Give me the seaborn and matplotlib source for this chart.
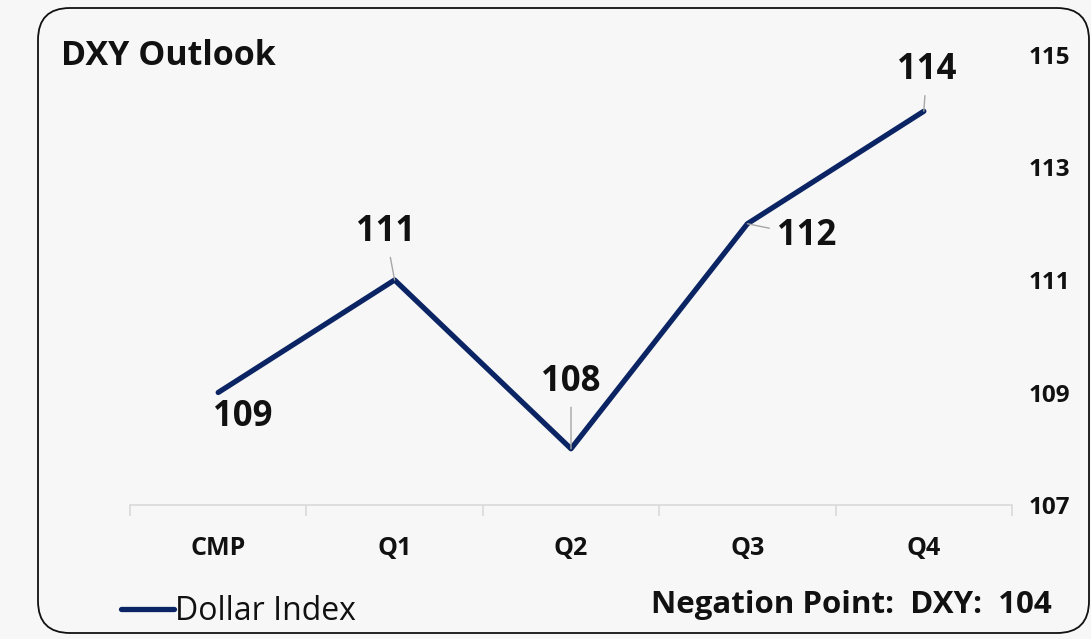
import matplotlib
matplotlib.use("Agg")
import matplotlib.pyplot as plt
import seaborn as sns
import pandas as pd
from matplotlib.patches import FancyBboxPatch
from matplotlib.transforms import IdentityTransform
from matplotlib.lines import Line2D
from matplotlib.ticker import FixedLocator

categories = ["CMP", "Q1", "Q2", "Q3", "Q4"]
values = [109, 111, 108, 112, 114]
y_ticks = [107, 109, 111, 113, 115]
series_name = "Dollar Index"

sns.set_style("white")
plt.rcParams['font.family'] = ['Open Sans', 'DejaVu Sans']

BG = "#f7f7f7"
NAVY = "#0b2463"
TXT = "#111111"
W, H = 1091, 639
fig = plt.figure(figsize=(W / 100, H / 100), dpi=100, facecolor=BG)
ax = fig.add_axes([130 / W, (H - 505) / H, 882 / W, 450 / H])
ax.set_facecolor(BG)

df = pd.DataFrame({"cat": categories, "val": values})
sns.lineplot(data=df, x="cat", y="val", sort=False, color=NAVY, linewidth=3.8,
             ax=ax, legend=False)

ax.set_xlim(-0.5, len(categories) - 0.5)
ax.set_ylim(107, 115)
ax.set_xlabel("")
ax.set_ylabel("")

# y axis on right
ax.yaxis.tick_right()
ax.set_yticks(y_ticks)
ax.set_yticklabels([str(t) for t in y_ticks], fontsize=17.5, fontweight="bold", color=TXT)
ax.tick_params(axis="y", length=0, pad=12)

# x axis
ax.set_xticks(range(len(categories)))
ax.set_xticklabels(categories, fontsize=18, fontweight="bold", color=TXT)
ax.tick_params(axis="x", which="major", length=0, pad=22)
ax.xaxis.set_minor_locator(FixedLocator([i - 0.5 for i in range(len(categories) + 1)]))
ax.tick_params(axis="x", which="minor", bottom=True, length=8, color="#d9d9d9",
               width=1.2, direction="out")

for s in ["top", "left", "right"]:
    ax.spines[s].set_visible(False)
ax.spines["bottom"].set_color("#d9d9d9")
ax.spines["bottom"].set_linewidth(1.2)

# data labels (offsets in pixels)
offsets = [(25, -25), (-9, 48), (0, 67), (59, -12), (3, 41)]
leaders = [False, True, True, True, True]
for i, (v, off, ld) in enumerate(zip(values, offsets, leaders)):
    kw = {}
    if ld:
        kw["arrowprops"] = dict(arrowstyle="-", color="#a6a6a6", lw=1.0, shrinkA=3, shrinkB=0)
    ax.annotate(str(v), xy=(i, v), xytext=off, textcoords="offset pixels",
                ha="center", va="center", fontsize=25, fontweight="bold",
                color=TXT, **kw)

# title
fig.text(61 / W, 1 - 56 / H, "DXY Outlook", fontsize=24.5, fontweight="bold",
         color=TXT, ha="left", va="center")

# legend
handle = Line2D([0], [0], color=NAVY, lw=3.8)
fig.legend([handle], [series_name], loc="center left",
           bbox_to_anchor=(121 / W, 1 - 612 / H), frameon=False,
           fontsize=23, handlelength=1.65, handletextpad=0.05, borderpad=0,
           borderaxespad=0, labelcolor=TXT)

# negation point
fig.text(1052 / W, 1 - 605 / H, "Negation Point:  DXY:  104", fontsize=22.5,
         fontweight="bold", color=TXT, ha="right", va="center")

# rounded border
border = FancyBboxPatch((38, H - 633), 1051, 625,
                        boxstyle="round,pad=0,rounding_size=32",
                        transform=IdentityTransform(), facecolor="none",
                        edgecolor=TXT, linewidth=1.3)
fig.add_artist(border)

fig.savefig("out.png", dpi=100, facecolor=BG)
